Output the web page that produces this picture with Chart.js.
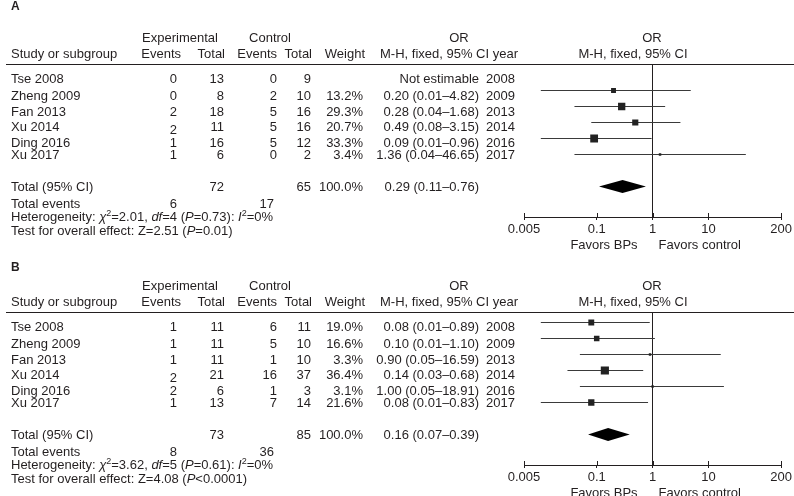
<!DOCTYPE html>
<html>
<head>
<meta charset="utf-8">
<script src="https://cdn.jsdelivr.net/npm/chart.js@4.4.1/dist/chart.umd.min.js"></script>
<style>
  html, body { margin: 0; padding: 0; background: #fff; }
  #wrap { position: relative; width: 794px; height: 496px; overflow: hidden; }
  .pane { position: absolute; left: 0; width: 794px; }
</style>
</head>
<body>
<div id="wrap">
  <!-- pane A is a bit taller so its "Favors" line is not clipped; B sits on top, transparent -->
  <div class="pane" style="top:0;height:262px"><canvas id="forest-a"></canvas></div>
  <div class="pane" style="top:248px;height:248px"><canvas id="forest-b"></canvas></div>
</div>
<script>
// ---- data ----
const studies = ['Tse 2008', 'Zheng 2009', 'Fan 2013', 'Xu 2014', 'Ding 2016', 'Xu 2017'];
const years   = [2008, 2009, 2013, 2014, 2016, 2017];
const orTicks = [0.005, 0.1, 1, 10, 200];

// panel A
const aExpEvents = [0, 0, 2, 2, 1, 1];
const aExpTotal  = [13, 8, 18, 11, 16, 6];
const aCtlEvents = [0, 2, 5, 5, 5, 0];
const aCtlTotal  = [9, 10, 16, 16, 12, 2];
const aWeight    = [null, 13.2, 29.3, 20.7, 33.3, 3.4];
const aOR        = [null, 0.20, 0.28, 0.49, 0.09, 1.36];
const aLow       = [null, 0.01, 0.04, 0.08, 0.01, 0.04];
const aHigh      = [null, 4.82, 1.68, 3.15, 0.96, 46.65];
const aPooled    = [0.29, 0.11, 0.76];          // OR, low, high
const aTotals    = [72, 65, 6, 17];             // exp total, ctl total, exp events, ctl events
const aHet       = ['2.01', '4', '0.73', '0'];  // chi2, df, P, I2
const aTest      = ['2.51', '=0.01'];           // Z, P

// panel B
const bExpEvents = [1, 1, 1, 2, 2, 1];
const bExpTotal  = [11, 11, 11, 21, 6, 13];
const bCtlEvents = [6, 5, 1, 16, 1, 7];
const bCtlTotal  = [11, 10, 10, 37, 3, 14];
const bWeight    = [19.0, 16.6, 3.3, 36.4, 3.1, 21.6];
const bOR        = [0.08, 0.10, 0.90, 0.14, 1.00, 0.08];
const bLow       = [0.01, 0.01, 0.05, 0.03, 0.05, 0.01];
const bHigh      = [0.89, 1.10, 16.59, 0.68, 18.91, 0.83];
const bPooled    = [0.16, 0.07, 0.39];
const bTotals    = [73, 85, 8, 36];
const bHet       = ['3.62', '5', '0.61', '0'];
const bTest      = ['4.08', '<0.0001'];

// ---- look ----
const FONT = '"Liberation Sans", Arial, Helvetica, sans-serif';
const INK  = '#231f20';
const LINE = '#3a3a3a';
const AXIS_Y = 217;   // axis line, px from the top of each pane
const COL  = { study: 11, expEv: 177, expTot: 224, ctlEv: 277, ctlTot: 311, weight: 363, or: 479, year: 515 };
const textShift = [5, 6, 6, 5, 5, 1, 0, 1];
const evShift   = [0, 0, 0, 3, 0, 0];   // the source sets the Xu 2014 event count a little low

const fmt2 = v => v.toFixed(2);
const ciText = (o, l, h) => fmt2(o) + ' (' + fmt2(l) + '\u2013' + fmt2(h) + ')';

function put(ctx, s, x, y, align, font) {
  ctx.font = font || ('13px ' + FONT);
  ctx.textAlign = align || 'left';
  ctx.fillText(String(s), x, y);
}

function rich(ctx, segs, x, y) {
  let cx = x;
  ctx.textAlign = 'left';
  segs.forEach(s => {
    ctx.font = (s.it ? 'italic ' : '') + (s.sup ? 9 : 13) + 'px ' + FONT;
    ctx.fillText(s.t, cx, s.sup ? y - 4 : y);
    cx += ctx.measureText(s.t).width;
  });
}

function makeTable(p) {
  return {
    id: 'forestTable',
    afterDraw(chart) {
      const ctx = chart.ctx;
      const xs = chart.scales.x, ys = chart.scales.y;
      const area = chart.chartArea;
      const totalRow = studies.length + 1;
      const rowY = i => ys.getPixelForValue(i) + textShift[i];

      ctx.save();
      ctx.fillStyle = INK;
      ctx.textBaseline = 'middle';

      put(ctx, p.letter, 11, p.letterY, 'left', 'bold 12px ' + FONT);

      // headers
      put(ctx, 'Experimental', 180, 38, 'center');
      put(ctx, 'Control', 270, 38, 'center');
      put(ctx, 'OR', 459, 38, 'center');
      put(ctx, 'OR', 652, 38, 'center');
      put(ctx, 'Study or subgroup', COL.study, 54);
      put(ctx, 'Events', 181, 54, 'right');
      put(ctx, 'Total', 225, 54, 'right');
      put(ctx, 'Events', 277, 54, 'right');
      put(ctx, 'Total', 312, 54, 'right');
      put(ctx, 'Weight', 365, 54, 'right');
      put(ctx, 'M-H, fixed, 95% CI year', 518, 54, 'right');
      put(ctx, 'M-H, fixed, 95% CI', 633, 54, 'center');
      ctx.fillRect(6, area.top - 1, 788, 1);

      // study rows
      studies.forEach((name, i) => {
        const y = rowY(i);
        put(ctx, name, COL.study, y);
        put(ctx, p.expEvents[i], COL.expEv, y + evShift[i], 'right');
        put(ctx, p.expTotal[i], COL.expTot, y, 'right');
        put(ctx, p.ctlEvents[i], COL.ctlEv, y, 'right');
        put(ctx, p.ctlTotal[i], COL.ctlTot, y, 'right');
        if (p.weight[i] != null) put(ctx, p.weight[i].toFixed(1) + '%', COL.weight, y, 'right');
        put(ctx, p.or[i] == null ? 'Not estimable' : ciText(p.or[i], p.low[i], p.high[i]), COL.or, y, 'right');
        put(ctx, years[i], COL.year, y, 'right');
      });

      // totals
      const ty = rowY(totalRow);
      put(ctx, 'Total (95% CI)', COL.study, ty);
      put(ctx, p.totals[0], COL.expTot, ty, 'right');
      put(ctx, p.totals[1], COL.ctlTot, ty, 'right');
      put(ctx, '100.0%', COL.weight, ty, 'right');
      put(ctx, ciText(p.pooled[0], p.pooled[1], p.pooled[2]), COL.or, ty, 'right');

      put(ctx, 'Total events', COL.study, ty + 17);
      put(ctx, p.totals[2], COL.expEv, ty + 17, 'right');
      put(ctx, p.totals[3], 274, ty + 17, 'right');

      rich(ctx, [
        { t: 'Heterogeneity: ' }, { t: '\u03c7', it: true }, { t: '2', sup: true },
        { t: '=' + p.het[0] + ', ' }, { t: 'df', it: true }, { t: '=' + p.het[1] + ' (' },
        { t: 'P', it: true }, { t: '=' + p.het[2] + '): ' }, { t: 'I', it: true },
        { t: '2', sup: true }, { t: '=' + p.het[3] + '%' }
      ], COL.study, ty + 30);
      rich(ctx, [
        { t: 'Test for overall effect: Z=' + p.test[0] + ' (' }, { t: 'P', it: true },
        { t: p.test[1] + ')' }
      ], COL.study, ty + 44);

      // short upward tick stubs above the axis line
      xs.ticks.forEach(t => {
        const x = Math.round(xs.getPixelForValue(t.value));
        ctx.fillRect(x, area.bottom - 4, 1, 4);
      });

      // favours labels
      const one = xs.getPixelForValue(1);
      put(ctx, 'Favors BPs', one - 15, area.bottom + 28, 'right');
      put(ctx, 'Favors control', one + 6, area.bottom + 28, 'left');
      ctx.restore();
    },
    afterDatasetsDraw(chart) {
      // pooled estimate diamond
      const ctx = chart.ctx;
      const xs = chart.scales.x, ys = chart.scales.y;
      const y = ys.getPixelForValue(studies.length + 1);
      ctx.save();
      ctx.fillStyle = '#000';
      ctx.beginPath();
      ctx.moveTo(xs.getPixelForValue(p.pooled[1]), y);
      ctx.lineTo(xs.getPixelForValue(p.pooled[0]), y - 6.5);
      ctx.lineTo(xs.getPixelForValue(p.pooled[2]), y);
      ctx.lineTo(xs.getPixelForValue(p.pooled[0]), y + 6.5);
      ctx.closePath();
      ctx.fill();
      ctx.restore();
    }
  };
}

function makeForest(canvasId, p) {
  const idx = studies.map((_, i) => i).filter(i => p.or[i] != null);
  const boxes = {
    data: idx.map(i => ({ x: p.or[i], y: i })),
    pointStyle: 'rect',
    pointRadius: idx.map(i => 1.35 * Math.sqrt(p.weight[i]) / Math.SQRT2),
    backgroundColor: '#222',
    borderWidth: 0
  };
  const whiskers = idx.map(i => ({
    data: [{ x: p.low[i], y: i }, { x: p.high[i], y: i }],
    showLine: true,
    borderColor: LINE,
    borderWidth: 1,
    pointRadius: 0
  }));

  return new Chart(document.getElementById(canvasId), {
    type: 'scatter',
    data: { datasets: [boxes, ...whiskers] },
    options: {
      responsive: true, maintainAspectRatio: false,
      animation: false, events: [],
      layout: { padding: { left: 524, right: 12, top: 65, bottom: 0 } },
      plugins: { legend: { display: false }, tooltip: { enabled: false } },
      scales: {
        x: {
          type: 'logarithmic', min: 0.005, max: 200,
          afterBuildTicks: s => { s.ticks = orTicks.map(v => ({ value: v })); },
          afterFit: s => { s.height = s.chart.height - AXIS_Y; },
          ticks: { color: INK, font: { family: FONT, size: 13 }, padding: 2, autoSkip: false, maxRotation: 0,
                   callback: v => String(v) },
          grid: { color: c => (c.tick && c.tick.value === 1) ? INK : 'rgba(0,0,0,0)', tickColor: INK, tickLength: 3, lineWidth: 1 },
          border: { display: true, color: INK, width: 1 }
        },
        y: { type: 'linear', reverse: true, min: -0.59375, max: 8.90625, display: false }
      }
    },
    plugins: [makeTable(p)]
  });
}

makeForest('forest-a', {
  letter: 'A', letterY: 7,
  expEvents: aExpEvents, expTotal: aExpTotal, ctlEvents: aCtlEvents, ctlTotal: aCtlTotal,
  weight: aWeight, or: aOR, low: aLow, high: aHigh,
  pooled: aPooled, totals: aTotals, het: aHet, test: aTest
});
makeForest('forest-b', {
  letter: 'B', letterY: 20,
  expEvents: bExpEvents, expTotal: bExpTotal, ctlEvents: bCtlEvents, ctlTotal: bCtlTotal,
  weight: bWeight, or: bOR, low: bLow, high: bHigh,
  pooled: bPooled, totals: bTotals, het: bHet, test: bTest
});
</script>
</body>
</html>
